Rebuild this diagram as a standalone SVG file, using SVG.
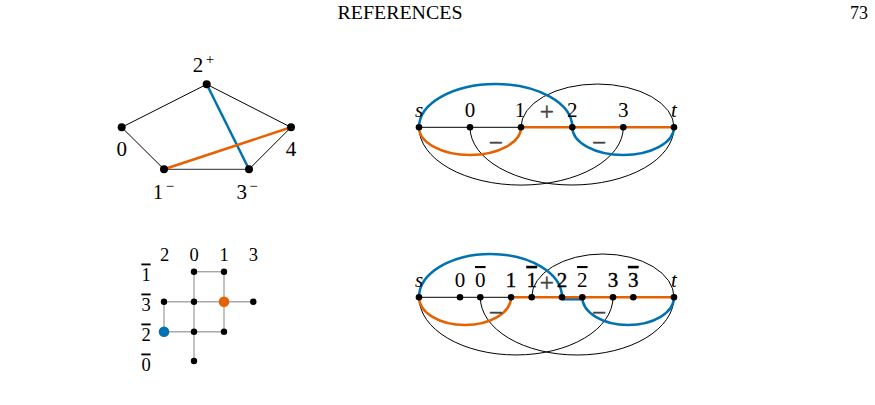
<svg xmlns="http://www.w3.org/2000/svg" width="875" height="405" viewBox="0 0 875 405">
<defs>
<style>
text{font-family:"Liberation Serif","DejaVu Serif",serif;fill:#000;}
.lbl{font-size:21px;text-anchor:middle;}
.sup{font-size:15px;text-anchor:middle;}
.glbl{font-size:18.5px;text-anchor:middle;}
.it{font-style:italic;}
.sg{fill:#444;stroke:#444;stroke-width:0.5;font-size:25px;text-anchor:middle;}
.bar{text-decoration:overline;}
.bd{stroke:#000;stroke-width:0.4;}
.thin{fill:none;stroke:#000;stroke-width:1;}
.gray{fill:none;stroke:#555;stroke-width:1.2;}
.grid{fill:none;stroke:#a8a8a8;stroke-width:1.4;}
.blue{fill:none;stroke:#0072B2;stroke-width:2.5;}
.orange{fill:none;stroke:#E66100;stroke-width:2.5;}
.dot{fill:#000;}
</style>
</defs>

<text x="400" y="19" font-size="18" text-anchor="middle" textLength="125" lengthAdjust="spacingAndGlyphs">REFERENCES</text>
<text x="868" y="19" font-size="18" text-anchor="end">73</text>

<!-- Top-left pentagon graph -->
<g id="connectors-tl">
<path class="thin" d="M121.7 127.3 L206.7 84.3 L291 127.3"/>
<path class="thin" d="M121.7 127.3 L164 169.3"/>
<path class="gray" d="M164 169.3 L249 169.3"/>
<path class="thin" d="M249 169.3 L291 127.3"/>
<path class="blue" d="M206.7 84.3 L249 169.3"/>
<path class="orange" d="M164 169.3 L291 127.3"/>
</g>
<g id="tl-n0"><circle class="dot" cx="121.7" cy="127.3" r="4"/><text class="lbl" x="121.7" y="156">0</text></g>
<g id="tl-n1"><circle class="dot" cx="164" cy="169.3" r="4"/><text class="lbl" x="158" y="198.5">1</text><text class="sup" x="170" y="191">−</text></g>
<g id="tl-n2"><circle class="dot" cx="206.7" cy="84.3" r="4"/><text class="lbl" x="198" y="72">2</text><text class="sup" x="210" y="64">+</text></g>
<g id="tl-n3"><circle class="dot" cx="249" cy="169.3" r="4"/><text class="lbl" x="241.7" y="198.5">3</text><text class="sup" x="253.5" y="191">−</text></g>
<g id="tl-n4"><circle class="dot" cx="291" cy="127.3" r="4"/><text class="lbl" x="291" y="156">4</text></g>

<!-- Top-right arc diagram -->
<g id="connectors-tr">
<path class="thin" d="M419 127.3 A102 57.7 0 0 0 623.3 127.3"/>
<path class="thin" d="M470 127.3 A102 57.7 0 0 0 674 127.3"/>
<path class="thin" d="M521 127.3 A76.5 43.3 0 0 1 674 127.3"/>
<path class="thin" d="M419 127.3 H521"/>
<path class="orange" d="M521 127.3 H674"/>
<path class="blue" d="M419 127.3 A76.65 43.3 0 0 1 572.3 127.3"/>
<path class="orange" d="M419 127.3 A51 27.7 0 0 0 521 127.3"/>
<path class="blue" d="M572.3 127.3 A50.85 27.7 0 0 0 674 127.3"/>
</g>
<g id="tr-s"><circle class="dot" cx="419" cy="127.3" r="3.3"/><text class="lbl it" x="419" y="117">s</text></g>
<g id="tr-0"><circle class="dot" cx="470" cy="127.3" r="3.3"/><text class="lbl" x="470" y="117">0</text></g>
<g id="tr-1"><circle class="dot" cx="521" cy="127.3" r="3.3"/><text class="lbl" x="520" y="117">1</text></g>
<g id="tr-2"><circle class="dot" cx="572.3" cy="127.3" r="3.3"/><text class="lbl" x="572.3" y="117">2</text></g>
<g id="tr-3"><circle class="dot" cx="623.3" cy="127.3" r="3.3"/><text class="lbl" x="623.3" y="117">3</text></g>
<g id="tr-t"><circle class="dot" cx="674" cy="127.3" r="3.3"/><text class="lbl it" x="674" y="117">t</text></g>
<g id="tr-signs">
<text class="sg" x="546.7" y="120">+</text>
<text class="sg" x="495.7" y="151">−</text>
<text class="sg" x="599" y="151">−</text>
</g>

<!-- Bottom-left grid -->
<g id="connectors-grid">
<path class="grid" d="M194 271.7 H224"/>
<path class="grid" d="M194 271.7 V361"/>
<path class="grid" d="M224 271.7 V331.7"/>
<path class="grid" d="M164 301.7 H253.3"/>
<path class="grid" d="M164 301.7 V331.7"/>
<path class="grid" d="M164 331.7 H224"/>
</g>
<g id="grid-labels">
<text class="glbl" x="164.5" y="260.5">2</text>
<text class="glbl" x="194" y="260.5">0</text>
<text class="glbl" x="224" y="260.5">1</text>
<text class="glbl" x="253.3" y="260.5">3</text>
<text class="glbl bar" x="146" y="280.5">1</text>
<text class="glbl bar" x="146" y="310.5">3</text>
<text class="glbl bar" x="146" y="340.5">2</text>
<text class="glbl bar" x="146" y="370.5">0</text>
</g>
<g id="g-01b"><circle class="dot" cx="194" cy="271.7" r="3.2"/></g>
<g id="g-11b"><circle class="dot" cx="224" cy="271.7" r="3.2"/></g>
<g id="g-23b"><circle class="dot" cx="164" cy="301.7" r="3.2"/></g>
<g id="g-03b"><circle class="dot" cx="194" cy="301.7" r="3.2"/></g>
<g id="g-13b"><circle cx="224" cy="301.7" r="5.3" fill="#E66100"/></g>
<g id="g-33b"><circle class="dot" cx="253.3" cy="301.7" r="3.2"/></g>
<g id="g-22b"><circle cx="164" cy="331.7" r="5.3" fill="#0072B2"/></g>
<g id="g-02b"><circle class="dot" cx="194" cy="331.7" r="3.2"/></g>
<g id="g-12b"><circle class="dot" cx="224" cy="331.7" r="3.2"/></g>
<g id="g-00b"><circle class="dot" cx="194" cy="361" r="3.2"/></g>

<!-- Bottom-right arc diagram -->
<g id="connectors-br">
<path class="thin" d="M419 297.3 A97 57.7 0 0 0 613 297.3"/>
<path class="thin" d="M480.3 297.3 A96.85 57.7 0 0 0 674 297.3"/>
<path class="thin" d="M531.7 297.3 A71.15 43.3 0 0 1 674 297.3"/>
<path class="thin" d="M419 297.3 H511"/>
<path class="blue" d="M562 299.3 H582.3"/>
<path class="orange" d="M511 297.3 H674"/>
<path class="blue" d="M419 297.3 A71.5 43.3 0 0 1 562 297.3"/>
<path class="orange" d="M419 297.3 A46 27.7 0 0 0 511 297.3"/>
<path class="blue" d="M582.3 297.3 A45.85 27.7 0 0 0 674 297.3"/>
</g>
<g id="br-s"><circle class="dot" cx="419" cy="297.3" r="3.3"/><text class="lbl it" x="419" y="287">s</text></g>
<g id="br-0"><circle class="dot" cx="460" cy="297.3" r="3.3"/><text class="lbl" x="460" y="287">0</text></g>
<g id="br-0b"><circle class="dot" cx="480.3" cy="297.3" r="3.3"/><text class="lbl bar" x="480.3" y="287">0</text></g>
<g id="br-1"><circle class="dot" cx="511" cy="297.3" r="3.3"/><text class="lbl bd" x="511" y="287">1</text></g>
<g id="br-1b"><circle class="dot" cx="531.7" cy="297.3" r="3.3"/><text class="lbl bar bd" x="531.7" y="287">1</text></g>
<g id="br-2"><circle class="dot" cx="562" cy="297.3" r="3.3"/><text class="lbl bd" x="562" y="287">2</text></g>
<g id="br-2b"><circle class="dot" cx="582.3" cy="297.3" r="3.3"/><text class="lbl bar" x="582.3" y="287">2</text></g>
<g id="br-3"><circle class="dot" cx="613" cy="297.3" r="3.3"/><text class="lbl bd" x="613" y="287">3</text></g>
<g id="br-3b"><circle class="dot" cx="633.3" cy="297.3" r="3.3"/><text class="lbl bar bd" x="633.3" y="287">3</text></g>
<g id="br-t"><circle class="dot" cx="674" cy="297.3" r="3.3"/><text class="lbl it" x="674" y="287">t</text></g>
<g id="br-signs">
<text class="sg" x="546.7" y="291">+</text>
<text class="sg" x="495.7" y="321">−</text>
<text class="sg" x="599" y="321">−</text>
</g>
</svg>
